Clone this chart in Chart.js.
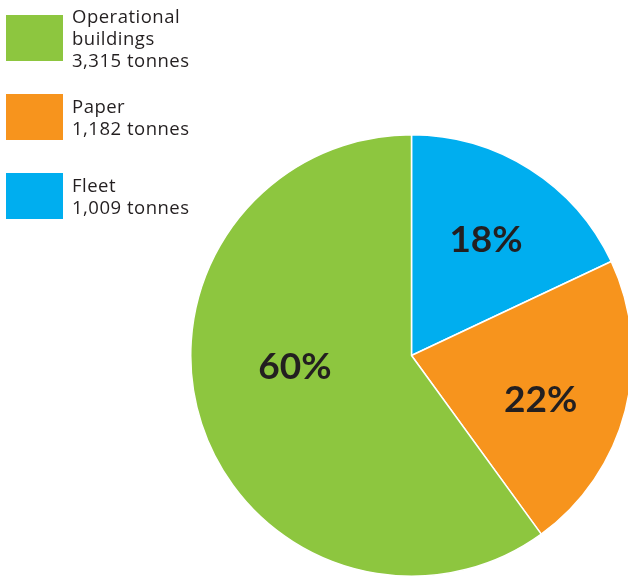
<!DOCTYPE html>
<html>
<head>
<meta charset="utf-8">
<script src="https://cdn.jsdelivr.net/npm/chart.js@4.4.0/dist/chart.umd.min.js"></script>
<style>
  html, body { margin: 0; padding: 0; background: #fff; overflow: hidden; }
  #wrap { position: relative; width: 628px; height: 577px; overflow: hidden; }
  #cbox { position: absolute; left: 0; top: 0; width: 640px; height: 577px; }
  #legend { position: absolute; left: 0; top: 0; font-family: "Open Sans", Lato, sans-serif; color: #231f20; }
  .item { position: absolute; left: 6px; display: flex; align-items: center; height: 46px; }
  .sw { width: 57px; height: 46px; flex: none; }
  .txt { margin-left: 9px; width: 135px; font-size: 18.5px; letter-spacing: 0.5px; line-height: 22.3px; }
  .val { white-space: nowrap; }
</style>
</head>
<body>
<div id="wrap">
  <div id="cbox"><canvas id="c"></canvas></div>
  <div id="legend"></div>
</div>
<script>
// Data (legend order)
const categories = ['Operational buildings', 'Paper', 'Fleet'];
const tonnes = [3315, 1182, 1009];
const valueLabels = ['3,315 tonnes', '1,182 tonnes', '1,009 tonnes'];
const pctValues = [60, 22, 18];
const pctLabels = ['60%', '22%', '18%'];
const colors = ['#8dc63f', '#f7941d', '#00aeef'];

// Legend
const legendTops = [15, 94, 173];
const legend = document.getElementById('legend');
categories.forEach((cat, i) => {
  const it = document.createElement('div');
  it.className = 'item';
  it.style.top = legendTops[i] + 'px';
  const sw = document.createElement('div');
  sw.className = 'sw';
  sw.style.background = colors[i];
  const tx = document.createElement('div');
  tx.className = 'txt';
  const nm = document.createElement('div');
  nm.textContent = cat;
  const vl = document.createElement('div');
  vl.className = 'val';
  vl.textContent = valueLabels[i];
  tx.appendChild(nm); tx.appendChild(vl);
  it.appendChild(sw); it.appendChild(tx);
  legend.appendChild(it);
});

// Chart draws clockwise from top: Fleet, Paper, Operational buildings
const order = [2, 1, 0];
const chartLabels = order.map(i => categories[i]);
const chartData = order.map(i => pctValues[i]);
const chartColors = order.map(i => colors[i]);
const chartPct = order.map(i => pctLabels[i]);

// label placement tweaks (angle offset in degrees, radius fraction) per drawn slice
const labelPlace = [ {da: 0, r: 0.63}, {da: 4, r: 0.617}, {da: 13, r: 0.53} ];

const pctPlugin = {
  id: 'pctLabels',
  afterDatasetsDraw(chart) {
    const ctx = chart.ctx;
    const meta = chart.getDatasetMeta(0);
    ctx.save();
    ctx.fillStyle = '#231f20';
    ctx.font = 'bold 37px Lato, "Open Sans", sans-serif';
    ctx.textAlign = 'center';
    ctx.textBaseline = 'middle';
    meta.data.forEach((arc, i) => {
      const p = arc.getProps(['x', 'y', 'startAngle', 'endAngle', 'outerRadius'], true);
      const mid = (p.startAngle + p.endAngle) / 2 + labelPlace[i].da * Math.PI / 180;
      const r = p.outerRadius * labelPlace[i].r;
      ctx.fillText(chartPct[i], p.x + Math.cos(mid) * r, p.y + Math.sin(mid) * r + 1.5);
    });
    ctx.restore();
  }
};

new Chart(document.getElementById('c'), {
  type: 'pie',
  data: {
    labels: chartLabels,
    datasets: [{
      data: chartData,
      backgroundColor: chartColors,
      borderColor: '#ffffff',
      borderWidth: 1.5,
      hoverOffset: 0
    }]
  },
  options: {
    responsive: true,
    maintainAspectRatio: false,
    animation: false,
    layout: { padding: { left: 190, right: 7, top: 134, bottom: 0 } },
    plugins: {
      legend: { display: false },
      tooltip: { enabled: false }
    }
  },
  plugins: [pctPlugin]
});
</script>
</body>
</html>
